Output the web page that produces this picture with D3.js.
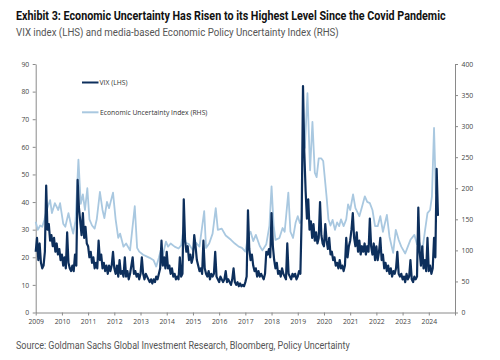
<!DOCTYPE html>
<html><head><meta charset="utf-8">
<script src="https://cdn.jsdelivr.net/npm/d3@7/dist/d3.min.js"></script>
<style>body{margin:0;background:#fff}svg{display:block}</style>
</head><body>
<svg id="chart" width="500" height="360"></svg>
<script>
// ---- data ----
const yearLabels = ["2009","2010","2011","2012","2013","2014","2015","2016","2017","2018","2019","2020","2021","2022","2023","2024"];
const leftTicks = [0,10,20,30,40,50,60,70,80,90];
const rightTicks = [0,50,100,150,200,250,300,350,400];

// VIX (LHS): values every 0.05 of a year along the axis
const vixStart = 2009, vixStep = 0.05;
const vix2009 = [22,27,19,25,18,16,17,22,46,30,32,26,28,24,27,22,25,21,23,19];
const vix2010 = [21,17,20,16,29,18,16,15,17,15,21,17,48,38,33,28,36,27,31,25];
const vix2011 = [24,20,22,18,20,16,18,16,26,19,21,16,18,15,17,14,17,15,17,22];
const vix2012 = [16,14,17,13,19,14,15,13,20,13,15,12,14,17,20,14,15,13,14,12];
const vix2013 = [14,20,14,12,14,13,12,11,12,10.5,12,11,13,12,14,16,26,17,20,16];
const vix2014 = [22,16,17,14,16,13,14,12,13,12,20,13,14,41,26,22,24,19,21,18];
const vix2015 = [20,28,24,19,17,15,16,14,26,16,14,13,15,12,14,13,14,22,13,12];
const vix2016 = [11,13,12,11,12,15,11,12,11,10,12,16,11,10,11,9.5,10.5,9.5,10,9.5];
const vix2017 = [11,13,37,23,19,21,17,15,16,13,15,13,14,13,12,14,22,21,23,20];
const vix2018 = [36,24,19,16,18,14,15,13,16,14,13,12,25,14,13,12,14,13,14,12];
const vix2019 = [13,15,14,35,82,58,44,34,41,30,33,27,32,26,29,25,27,40,28,25];
const vix2020 = [24,32,26,23,27,21,22,19,20,17,18,16,19,16,17,15,17,27,20,24];
const vix2021 = [26,30,36,27,24,29,22,26,21,24,22,25,21,24,22,34,24,21,25,19];
const vix2022 = [24,19,22,27,19,21,16,18,15,17,14,16,13,15,14,16,22,14,13,14];
const vix2023 = [12,13,11,14,12,13,19,12,11,13,12,13,38,22,17,24,16,19,15,27];
const vix2024 = [15,17,14,16,27,20,52,35];

// Economic Policy Uncertainty (RHS)
const epuDates = [2009.00,2009.08,2009.17,2009.25,2009.33,2009.42,2009.55,2009.62,2009.73,2009.86,2009.93,
  2010.05,2010.13,2010.25,2010.35,2010.43,2010.52,2010.63,2010.72,2010.80,2010.88,2010.97,
  2011.05,2011.15,2011.25,2011.33,2011.45,2011.55,2011.62,2011.72,2011.80,2011.95,
  2012.05,2012.15,2012.22,2012.35,2012.45,2012.60,2012.78,2012.87,2012.95,
  2013.10,2013.25,2013.35,2013.50,2013.60,2013.70,2013.77,2013.85,2013.97,
  2014.05,2014.15,2014.30,2014.45,2014.55,2014.65,2014.72,2014.85,
  2015.00,2015.12,2015.25,2015.43,2015.50,2015.62,2015.75,2015.87,2015.95,
  2016.10,2016.25,2016.45,2016.60,2016.75,2016.87,
  2017.00,2017.10,2017.20,2017.30,2017.40,2017.55,2017.65,2017.80,2017.92,
  2018.00,2018.08,2018.15,2018.30,2018.42,2018.50,2018.64,2018.72,2018.82,2018.92,
  2019.00,2019.08,2019.15,2019.20,2019.27,2019.37,2019.47,2019.56,2019.65,2019.72,2019.80,2019.90,2019.97,
  2020.10,2020.17,2020.25,2020.33,2020.42,2020.50,2020.58,2020.65,2020.75,2020.85,2020.92,
  2021.00,2021.11,2021.20,2021.35,2021.45,2021.56,2021.65,2021.75,2021.85,2021.95,
  2022.05,2022.15,2022.25,2022.40,2022.50,2022.64,2022.74,2022.85,2022.95,
  2023.10,2023.20,2023.30,2023.45,2023.55,2023.65,2023.75,2023.85,2023.95,
  2024.05,2024.12,2024.20,2024.27];
const epuValues = [146,133,140,138,149,165,181,160,176,165,176,
  143,138,160,140,127,148,246,175,190,165,200,
  150,140,135,150,194,165,152,178,168,193,
  150,120,127,106,111,100,171,104,98,
  93,90,88,84,74,88,100,92,114,
  106,111,106,103,108,138,112,110,
  100,112,106,163,104,111,127,168,133,
  135,124,117,111,106,104,
  98,122,130,115,125,107,100,110,140,
  203,140,117,120,136,130,193,130,120,145,
  155,144,150,285,265,353,229,307,225,218,248,248,244,
  186,150,140,149,133,145,139,150,139,150,174,
  165,190,168,155,170,187,178,176,165,139,
  139,155,130,157,122,96,133,117,106,
  95,106,117,125,110,112,98,130,160,
  165,187,297,190];

// ---- build ----
const vixValues = [].concat(vix2009,vix2010,vix2011,vix2012,vix2013,vix2014,vix2015,vix2016,
  vix2017,vix2018,vix2019,vix2020,vix2021,vix2022,vix2023,vix2024);
const vixData = vixValues.map((v,i)=>({t: vixStart + i*vixStep, v}));
const epuData = epuDates.map((t,i)=>({t, v: epuValues[i]}));

const svg = d3.select("#chart");
const x = d3.scaleLinear().domain([2009, 2025]).range([35.7, 455]);
const yL = d3.scaleLinear().domain([0, 90]).range([312.5, 64]);
const yR = d3.scaleLinear().domain([0, 400]).range([312.5, 64]);

const axisColor = "#8a8a8a", labelColor = "#444";
const tickFont = "Open Sans, sans-serif";

function styleAxis(g){
  g.select(".domain").attr("stroke", axisColor).attr("stroke-width", 1);
  g.selectAll(".tick line").attr("stroke", axisColor);
  g.selectAll(".tick text").attr("fill", labelColor).attr("font-family", tickFont).attr("font-size", 6.8);
}

svg.append("g").attr("transform","translate(35.7,0)")
  .call(d3.axisLeft(yL).tickValues(leftTicks).tickSize(3).tickPadding(3.5).tickSizeOuter(0))
  .call(styleAxis);
svg.append("g").attr("transform","translate(455,0)")
  .call(d3.axisRight(yR).tickValues(rightTicks).tickSize(3).tickPadding(3.5).tickSizeOuter(0))
  .call(styleAxis);
const xTickVals = yearLabels.map(Number).concat([2025]);
svg.append("g").attr("transform","translate(0,312.5)")
  .call(d3.axisBottom(x).tickValues(xTickVals).tickSize(3).tickPadding(4)
    .tickFormat(d => yearLabels.includes(String(d)) ? String(d) : "").tickSizeOuter(0))
  .call(styleAxis);

// lines
const epuLine = d3.line().x(d=>x(d.t)).y(d=>yR(d.v));
const vixLine = d3.line().x(d=>x(d.t)).y(d=>yL(d.v));
const epuColor = "#a9c8e0", vixColor = "#0d2f5c";

svg.append("path").datum(epuData).attr("d", epuLine)
  .attr("fill","none").attr("stroke", epuColor).attr("stroke-width",1.8).attr("stroke-linejoin","round");
svg.append("path").datum(vixData).attr("d", vixLine)
  .attr("fill","none").attr("stroke", vixColor).attr("stroke-width",2.2).attr("stroke-linejoin","round");

// legend
const lg = svg.append("g").attr("font-family", tickFont).attr("font-size", 6.8).attr("fill", "#333");
lg.append("line").attr("x1",82).attr("x2",98.5).attr("y1",82.5).attr("y2",82.5).attr("stroke",vixColor).attr("stroke-width",2);
lg.append("text").attr("x",99.5).attr("y",84.8).text("VIX (LHS)");
lg.append("line").attr("x1",82).attr("x2",98.5).attr("y1",112.3).attr("y2",112.3).attr("stroke",epuColor).attr("stroke-width",2);
lg.append("text").attr("x",100).attr("y",114.6).text("Economic Uncertainty Index (RHS)");

// titles, squeezed horizontally to the reference widths
const narrow = "'Liberation Sans Narrow', 'Roboto', sans-serif";
function fitText(xPos, yPos, size, weight, color, width, str){
  const t = svg.append("text").attr("x",0).attr("y",0).attr("font-family",narrow)
    .attr("font-weight",weight).attr("font-size",size).attr("fill",color).text(str);
  const natural = t.node().getComputedTextLength();
  const s = Math.min(1, width / natural);
  t.attr("transform", `translate(${xPos},${yPos}) scale(${s},1)`);
}
fitText(16, 19.5, 13.5, "bold", "#111", 430, "Exhibit 3: Economic Uncertainty Has Risen to its Highest Level Since the Covid Pandemic");
fitText(16, 35.5, 11, "normal", "#555", 323, "VIX index (LHS) and media-based Economic Policy Uncertainty Index (RHS)");
fitText(16, 348.5, 11, "normal", "#555", 334, "Source: Goldman Sachs Global Investment Research, Bloomberg, Policy Uncertainty");
</script>
</body></html>
